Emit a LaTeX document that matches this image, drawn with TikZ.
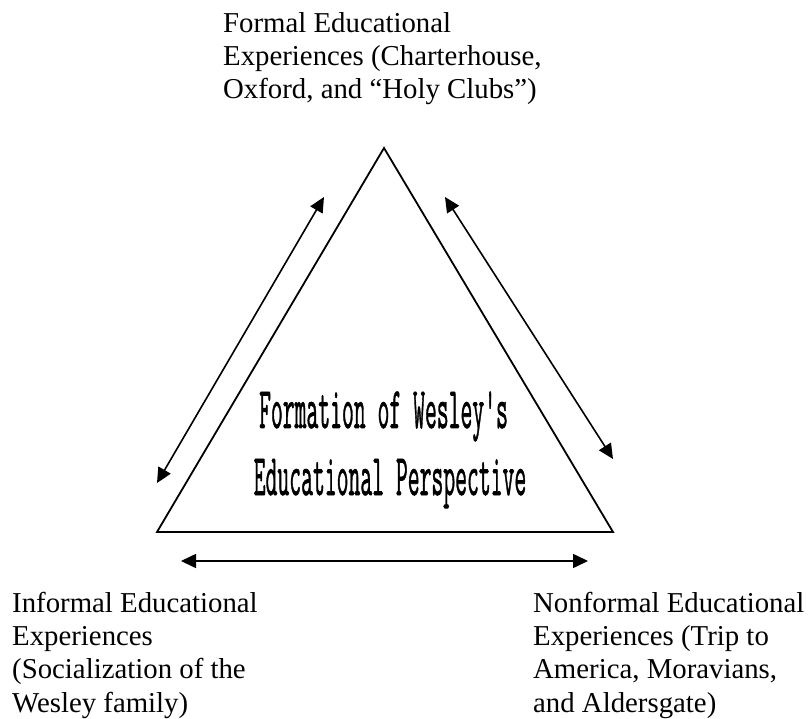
\documentclass[tikz,border=0pt]{standalone}
\usepackage{fontspec}
\usepackage{graphicx}
\setmainfont{Liberation Serif}
\newfontfamily\titlefont[FakeBold=1.4,Ligatures=TeXOff]{Latin Modern Mono}
\usetikzlibrary{arrows.meta}
\tikzset{
  lbl/.style={font=\fontsize{28.8}{33.3}\selectfont, align=left, inner sep=0pt, anchor=base west},
  ttl/.style={font=\titlefont\fontsize{59}{59}\selectfont, inner sep=0pt, anchor=base},
  side/.style={line width=1.8pt, line join=miter},
  dbl/.style={line width=1.6pt, {Triangle[length=15pt,width=14pt]}-{Triangle[length=15pt,width=14pt]}}
}
\begin{document}
\begin{tikzpicture}[x=1pt,y=-1pt]
\useasboundingbox (0,0) rectangle (809,719);
% triangle corners
\coordinate (A) at (384,148);
\coordinate (B) at (157,532);
\coordinate (C) at (613,532);
\draw[side] (A) -- (B) -- (C) -- cycle;
% arrow ends
\coordinate (l1) at (324,197);
\coordinate (l2) at (157,483);
\coordinate (r1) at (445,197);
\coordinate (r2) at (613,459);
\coordinate (h1) at (181,561);
\coordinate (h2) at (588,561);
\draw[dbl] (l1) -- (l2);
\draw[dbl] (r1) -- (r2);
\draw[dbl] (h1) -- (h2);
% title
\node[ttl] (t1) at (383.5,428) {\scalebox{0.39}[1]{Formation of Wesley's}};
\node[ttl] (t2) at (390,495) {\scalebox{0.39}[1]{Educational Perspective}};
% labels (anchored at the baseline of their last line)
\node[lbl] (formal) at (223,99) {Formal Educational\\Experiences (Charterhouse,\\Oxford, and ``Holy Clubs'')};
\node[lbl] (informal) at (12,712) {Informal Educational\\Experiences\\(Socialization of the\\Wesley family)};
\node[lbl] (nonformal) at (533,712) {Nonformal Educational\\Experiences (Trip to\\America, Moravians,\\and Aldersgate)};
\end{tikzpicture}
\end{document}
